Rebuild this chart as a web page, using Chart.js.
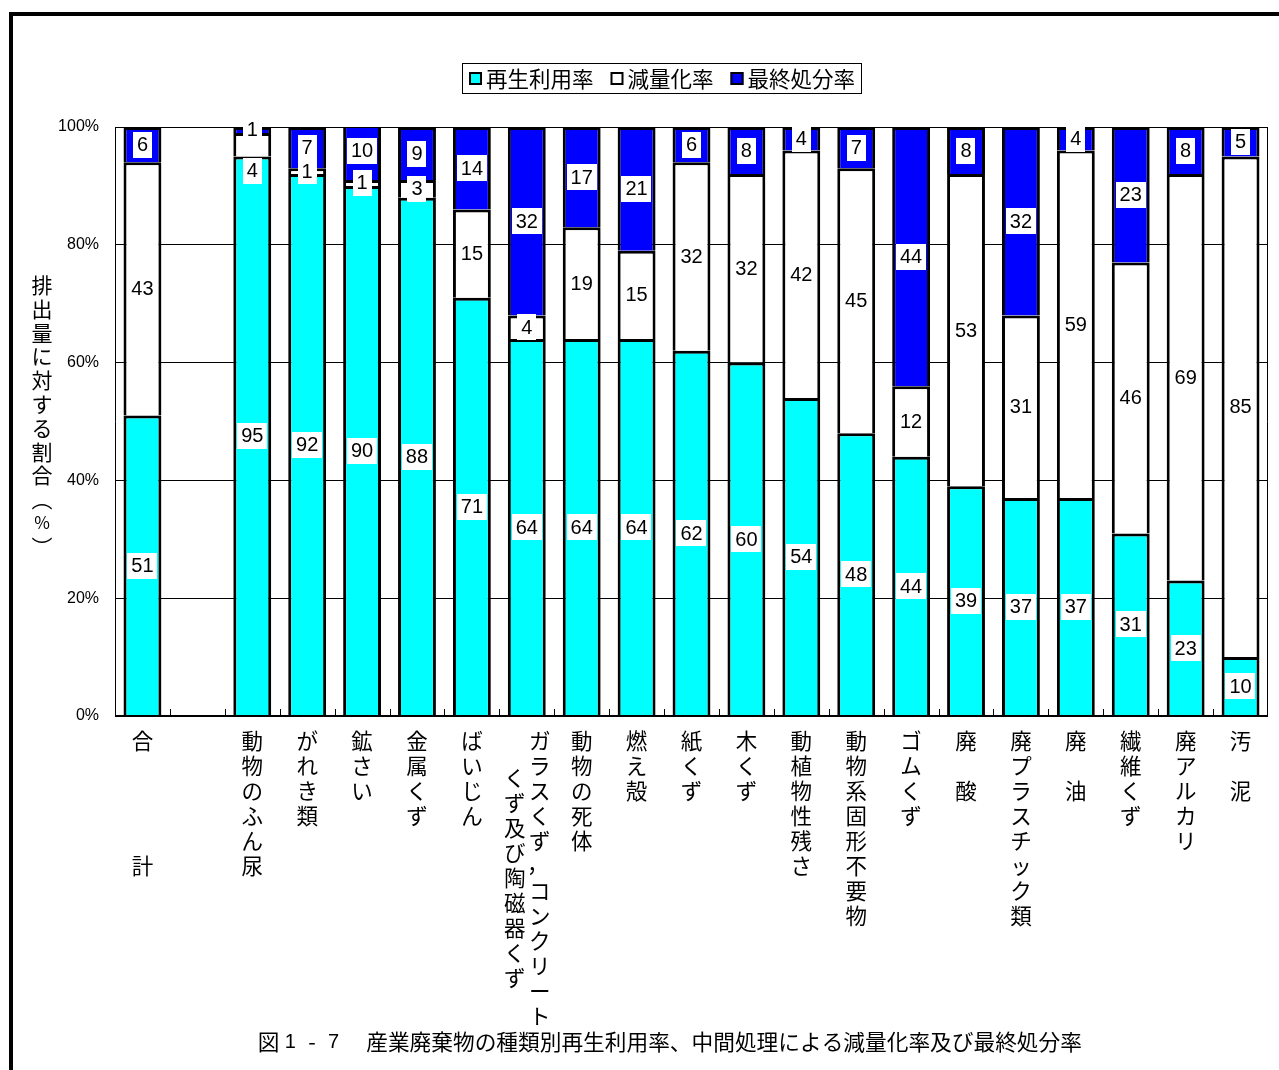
<!DOCTYPE html>
<html>
<head>
<meta charset="utf-8">
<script src="https://cdn.jsdelivr.net/npm/chart.js@4.4.1/dist/chart.umd.min.js"></script>
<style>
  html, body { margin: 0; padding: 0; background: #fff; overflow: hidden; }
  #wrap { position: relative; width: 1279px; height: 1070px; }
</style>
</head>
<body>
<div id="wrap"><canvas id="c" width="1279" height="1070"></canvas></div>
<script>
// ---- data ----
const categories = ["合計", "", "動物のふん尿", "がれき類", "鉱さい", "金属くず", "ばいじん",
  "ガラスくず，コンクリートくず及び陶磁器くず", "動物の死体", "燃え殻", "紙くず", "木くず",
  "動植物性残さ", "動物系固形不要物", "ゴムくず", "廃酸", "廃プラスチック類", "廃油",
  "繊維くず", "廃アルカリ", "汚泥"];
// vertical tick text; "|" starts a second column, full-width spaces keep blank cells
const tickLabels = ["合　　　　計", "", "動物のふん尿", "がれき類", "鉱さい", "金属くず", "ばいじん",
  "ガラスくず，コンクリート|くず及び陶磁器くず", "動物の死体", "燃え殻", "紙くず", "木くず",
  "動植物性残さ", "動物系固形不要物", "ゴムくず", "廃　酸", "廃プラスチック類", "廃　油",
  "繊維くず", "廃アルカリ", "汚　泥"];
const recycled = [51, null, 95, 92, 90, 88, 71, 64, 64, 64, 62, 60, 54, 48, 44, 39, 37, 37, 31, 23, 10];
const reduced  = [43, null, 4, 1, 1, 3, 15, 4, 19, 15, 32, 32, 42, 45, 12, 53, 31, 59, 46, 69, 85];
const disposed = [6, null, 1, 7, 10, 9, 14, 32, 17, 21, 6, 8, 4, 7, 44, 8, 32, 4, 23, 8, 5];
const seriesNames = ["再生利用率", "減量化率", "最終処分率"];
const yTicks = [0, 20, 40, 60, 80, 100];
const yTitle = "排出量に対する割合（％）";
const caption = "図１－７　産業廃棄物の種類別再生利用率、中間処理による減量化率及び最終処分率";

// ---- styling ----
const CJK = '"Noto Sans CJK JP", "Noto Sans CJK SC", sans-serif';
const LAT = '"Liberation Sans", Arial, sans-serif';
const seriesColors = ["#00FFFF", "#FFFFFF", "#0000FF"];
// labels nudged off tiny segments: key "category-dataset" -> pixel shift
const labelShift = { "2-1": 26 };

const decor = {
  id: 'decor',
  beforeDraw(chart) {
    const ctx = chart.ctx;
    ctx.save();
    ctx.fillStyle = '#fff';
    ctx.fillRect(0, 0, chart.width, chart.height);
    ctx.fillStyle = '#000';
    ctx.fillRect(9, 12, chart.width - 9, 4);
    ctx.fillRect(9, 12, 4, chart.height - 12);
    ctx.restore();
  },
  afterDatasetsDraw(chart) {
    const ctx = chart.ctx;
    const a = chart.chartArea;
    const xs = chart.scales.x;
    ctx.save();
    // plot frame
    ctx.strokeStyle = '#000';
    ctx.lineWidth = 1;
    ctx.beginPath();
    ctx.moveTo(a.left + 0.5, a.bottom); ctx.lineTo(a.left + 0.5, a.top + 0.5);
    ctx.lineTo(a.right - 0.5, a.top + 0.5); ctx.lineTo(a.right - 0.5, a.bottom);
    ctx.stroke();
    ctx.lineWidth = 2;
    ctx.beginPath();
    ctx.moveTo(a.left, a.bottom); ctx.lineTo(a.right, a.bottom);
    ctx.stroke();
    // inward tick marks on category boundaries
    ctx.lineWidth = 1;
    ctx.beginPath();
    for (let i = 1; i < categories.length; i++) {
      const x = Math.round((xs.getPixelForValue(i - 1) + xs.getPixelForValue(i)) / 2) + 0.5;
      ctx.moveTo(x, a.bottom - 7); ctx.lineTo(x, a.bottom);
    }
    ctx.stroke();

    // value labels in white boxes
    ctx.font = '20px ' + LAT;
    ctx.textAlign = 'center';
    ctx.textBaseline = 'middle';
    chart.data.datasets.forEach((ds, d) => {
      const meta = chart.getDatasetMeta(d);
      meta.data.forEach((el, i) => {
        const v = ds.data[i];
        if (v == null) return;
        const p = el.getProps(['x', 'y', 'base'], true);
        const cy = (p.y + p.base) / 2 + (labelShift[i + '-' + d] || 0);
        const txt = String(v);
        const w = ctx.measureText(txt).width + 8;
        const h = 26;
        ctx.fillStyle = '#fff';
        ctx.fillRect(Math.round(p.x - w / 2), Math.round(cy - h / 2), Math.round(w), h);
        ctx.fillStyle = '#000';
        ctx.fillText(txt, p.x, cy + 1);
      });
    });
    ctx.restore();
  },
  afterDraw(chart) {
    const ctx = chart.ctx;
    const a = chart.chartArea;
    const xs = chart.scales.x;
    ctx.save();
    ctx.fillStyle = '#000';
    ctx.textAlign = 'center';
    ctx.textBaseline = 'middle';

    // vertical category labels
    ctx.font = '21.5px ' + CJK;
    const step = 25, y0 = a.bottom + 25;
    tickLabels.forEach((lbl, i) => {
      if (!lbl) return;
      const cx = xs.getPixelForValue(i);
      const cols = lbl.split('|');
      cols.forEach((col, c) => {
        const colX = cols.length > 1 ? (c === 0 ? cx + 13 : cx - 12) : cx;
        const colY = c === 0 ? y0 : y0 + 37;
        Array.from(col).forEach((ch, k) => {
          if (ch === '　') return;
          if (ch === '，') {
            ctx.fillText('，', colX - 2, colY + k * step - 2);
          } else {
            ctx.fillText(ch, colX, colY + k * step);
          }
        });
      });
    });

    // vertical y-axis title
    const vmap = { '（': '︵', '）': '︶', '％': '%' };
    Array.from(yTitle).forEach((ch, k) => {
      const g = vmap[ch] || ch;
      ctx.font = (ch === '％' ? '17px ' : '21px ') + CJK;
      ctx.fillText(g, 42, 285 + k * 23.8);
    });

    // legend
    ctx.lineWidth = 1;
    ctx.strokeStyle = '#000';
    ctx.strokeRect(462.5, 63.5, 399, 30);
    ctx.font = '21.5px ' + CJK;
    ctx.textAlign = 'left';
    let lx = 469;
    chart.data.datasets.forEach((ds) => {
      ctx.fillStyle = ds.backgroundColor;
      ctx.fillRect(lx, 72, 13, 13);
      ctx.lineWidth = 2;
      ctx.strokeRect(lx + 1, 73, 11, 11);
      ctx.fillStyle = '#000';
      ctx.fillText(ds.label, lx + 17, 79);
      lx += 17 + ctx.measureText(ds.label).width + 17;
    });

    // caption: figure number set cell by cell, then the title
    const fs = 21.7;
    ctx.font = fs + 'px ' + CJK;
    const chars = Array.from(caption);
    let cx = 670 - (chars.length * fs) / 2;
    ctx.textAlign = 'center';
    for (let k = 0; k < 5; k++) {
      const ch = chars[k];
      if (ch === '－') ctx.fillText('-', cx + fs / 2, 1042);
      else if (ch === '１' || ch === '７') {
        ctx.font = '20px ' + LAT;
        ctx.fillText(ch === '１' ? '1' : '7', cx + fs / 2, 1042);
        ctx.font = fs + 'px ' + CJK;
      } else ctx.fillText(ch, cx + fs / 2, 1042);
      cx += fs;
    }
    ctx.textAlign = 'left';
    ctx.fillText(chars.slice(5).join(''), cx, 1042);
    ctx.restore();
  }
};

new Chart(document.getElementById('c'), {
  type: 'bar',
  data: {
    labels: categories,
    datasets: [recycled, reduced, disposed].map((vals, d) => ({
      label: seriesNames[d],
      data: vals,
      backgroundColor: seriesColors[d],
      borderColor: '#000',
      borderWidth: 3,
      barPercentage: 0.69,
      categoryPercentage: 1,
      clip: 0
    }))
  },
  options: {
    responsive: false,
    animation: false,
    devicePixelRatio: 1,
    layout: { padding: { left: 0, right: 11, top: 127, bottom: 354 } },
    plugins: { legend: { display: false }, tooltip: { enabled: false } },
    scales: {
      x: {
        stacked: true,
        ticks: { display: false },
        grid: { display: false, drawTicks: false },
        border: { display: false },
        afterFit(s) { s.height = 0; }
      },
      y: {
        stacked: true,
        min: 0, max: 100,
        afterBuildTicks(s) { s.ticks = yTicks.map(v => ({ value: v })); },
        ticks: {
          callback: v => v + '%',
          color: '#000',
          font: { family: LAT, size: 16 },
          padding: 16
        },
        grid: { color: '#000', lineWidth: 1, drawTicks: false },
        border: { display: false },
        afterFit(s) { s.width = 115; }
      }
    }
  },
  plugins: [decor]
});
</script>
</body>
</html>
